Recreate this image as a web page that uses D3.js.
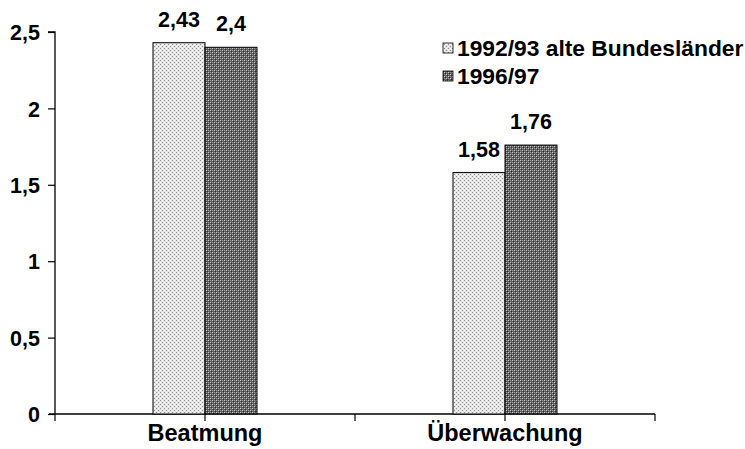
<!DOCTYPE html>
<html><head><meta charset="utf-8">
<script src="https://cdn.jsdelivr.net/npm/d3@7"></script>
<style>body{margin:0;background:#fff}svg{display:block}text{font-family:"Liberation Sans",Arial,sans-serif;font-weight:bold;fill:#000}</style>
</head><body>
<script>
const categories = ["Beatmung", "Überwachung"];
const seriesNames = ["1992/93 alte Bundesländer", "1996/97"];
const series1 = [2.43, 1.58];
const series2 = [2.4, 1.76];
const labels1 = ["2,43", "1,58"];
const labels2 = ["2,4", "1,76"];
const yTicks = [0, 0.5, 1, 1.5, 2, 2.5];
const yTickLabels = ["0", "0,5", "1", "1,5", "2", "2,5"];

const W = 745, H = 449;
const svg = d3.select("body").append("svg").attr("width", W).attr("height", H);
const defs = svg.append("defs");
// light dotted pattern
const p1 = defs.append("pattern").attr("id","pLight").attr("width",4).attr("height",4).attr("patternUnits","userSpaceOnUse");
p1.append("rect").attr("width",4).attr("height",4).attr("fill","#e4e4e4");
p1.append("rect").attr("x",0).attr("y",0).attr("width",1).attr("height",1).attr("fill","#909090");
p1.append("rect").attr("x",2).attr("y",2).attr("width",1).attr("height",1).attr("fill","#909090");
p1.append("rect").attr("x",2).attr("y",0).attr("width",1).attr("height",1).attr("fill","#ffffff");
p1.append("rect").attr("x",0).attr("y",2).attr("width",1).attr("height",1).attr("fill","#ffffff");
// dark checker pattern
const p2 = defs.append("pattern").attr("id","pDark").attr("width",4).attr("height",4).attr("patternUnits","userSpaceOnUse");
p2.append("rect").attr("width",4).attr("height",4).attr("fill","#5e5e5e");
p2.append("rect").attr("x",0).attr("y",0).attr("width",1).attr("height",1).attr("fill","#c8c8c8");
p2.append("rect").attr("x",2).attr("y",2).attr("width",1).attr("height",1).attr("fill","#c8c8c8");
p2.append("rect").attr("x",1).attr("y",1).attr("width",1).attr("height",1).attr("fill","#2a2a2a");
p2.append("rect").attr("x",3).attr("y",3).attr("width",1).attr("height",1).attr("fill","#2a2a2a");
p2.append("rect").attr("x",2).attr("y",0).attr("width",1).attr("height",1).attr("fill","#9a9a9a");
p2.append("rect").attr("x",0).attr("y",2).attr("width",1).attr("height",1).attr("fill","#9a9a9a");
const fills = ["url(#pLight)", "url(#pDark)"];

const x0 = 55, x1 = 655, yTop = 32, yBot = 414;
const x = d3.scaleBand().domain(categories).range([x0, x1]);
const y = d3.scaleLinear().domain([0, 2.5]).range([yBot, yTop]);
const barW = 52;

// y axis
const yAxis = d3.axisLeft(y).tickValues(yTicks).tickSize(7).tickPadding(8)
  .tickFormat((d,i) => yTickLabels[i]);
const gy = svg.append("g").attr("transform", `translate(${x0},0)`).call(yAxis);
gy.select(".domain").attr("stroke","#000").attr("stroke-width",1.3).attr("d", `M-7,${yTop}H0V${yBot}`);
gy.selectAll(".tick line").attr("stroke","#000").attr("stroke-width",1.2);
gy.selectAll(".tick text").style("font-size","21.5px").style("font-family","'Liberation Sans',Arial,sans-serif").style("font-weight","bold").attr("fill","#000").attr("dy","0.36em");

// x axis
const gx = svg.append("g").attr("transform", `translate(0,${yBot})`);
gx.append("line").attr("x1", x0 - 6).attr("x2", x1).attr("y1",0).attr("y2",0).attr("stroke","#000").attr("stroke-width",1.3);
const xTickPos = [];
categories.forEach(c => { xTickPos.push(x(c)); xTickPos.push(x(c) + x.bandwidth()/2); });
xTickPos.push(x1);
gx.selectAll("line.tk").data(xTickPos).join("line").attr("class","tk")
  .attr("x1", d=>d).attr("x2", d=>d).attr("y1",0).attr("y2",7).attr("stroke","#000").attr("stroke-width",1.2);
gx.selectAll("text.cat").data(categories).join("text").attr("class","cat")
  .attr("x", d => x(d) + x.bandwidth()/2).attr("y", 27).attr("text-anchor","middle")
  .style("font-size","23.5px").text(d => d);

// bars
const data = [series1, series2];
const lbls = [labels1, labels2];
data.forEach((vals, s) => {
  svg.selectAll(`rect.b${s}`).data(vals).join("rect").attr("class",`b${s}`)
    .attr("x", (d,i) => x(categories[i]) + x.bandwidth()/2 + (s === 0 ? -barW : 0))
    .attr("width", barW)
    .attr("y", d => y(d)).attr("height", d => yBot - y(d))
    .attr("fill", fills[s]).attr("stroke","#000").attr("stroke-width",1);
  svg.selectAll(`text.v${s}`).data(vals).join("text").attr("class",`v${s}`)
    .attr("x", (d,i) => x(categories[i]) + x.bandwidth()/2 + (s === 0 ? -barW/2 : barW/2))
    .attr("y", d => y(d) - 16).attr("text-anchor","middle")
    .style("font-size","21.5px").text((d,i) => lbls[s][i]);
});

// legend
const lg = svg.append("g");
seriesNames.forEach((n, i) => {
  lg.append("rect").attr("x", 443).attr("y", 43 + i*28).attr("width", 10).attr("height", 10)
    .attr("fill", fills[i]).attr("stroke","#000").attr("stroke-width",0.8);
  lg.append("text").attr("x", 457).attr("y", 56 + i*28).style("font-size","22.8px").text(n);
});
</script>
</body></html>
